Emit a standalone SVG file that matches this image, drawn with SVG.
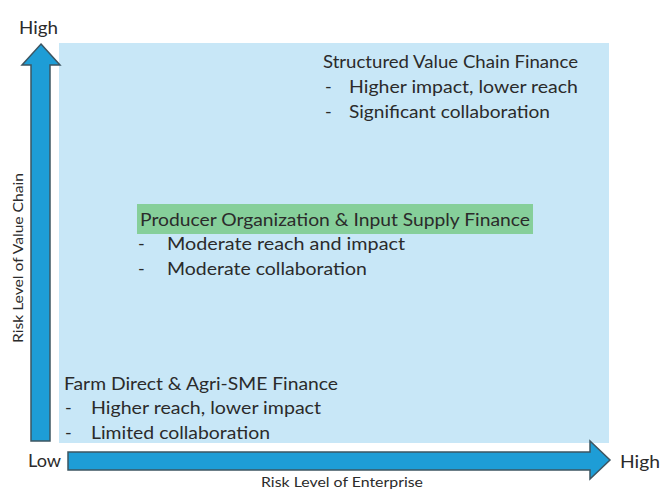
<svg xmlns="http://www.w3.org/2000/svg" width="662" height="489" viewBox="0 0 662 489">
<style>
text{font-family:Lato,"Open Sans","Liberation Sans",sans-serif;fill:#2b2b2b}
.t{font-size:18px}
.ax{font-size:17px}
.al{font-size:12.5px}
.arrow{fill:#1e9dd6;stroke:#3d5561;stroke-width:1.5;stroke-linejoin:miter}
</style>
<rect width="662" height="489" fill="#ffffff"/>
<rect id="plane" x="59" y="43" width="550" height="400" fill="#c8e7f7"/>
<g id="connectors">
<polygon class="arrow" points="41,44 60,65 50,65 50,441 31,441 31,65 22,65"/>
<polygon class="arrow" points="68,452 590,452 590,441 610,460 590,479 590,470 68,470"/>
</g>
<g id="axis-labels">
<text class="ax" x="19" y="34" textLength="39" lengthAdjust="spacingAndGlyphs">High</text>
<text class="ax" x="28" y="467" textLength="33" lengthAdjust="spacingAndGlyphs">Low</text>
<text class="ax" x="620" y="468" textLength="40" lengthAdjust="spacingAndGlyphs">High</text>
<text class="al" x="261" y="487" textLength="162" lengthAdjust="spacingAndGlyphs">Risk Level of Enterprise</text>
<text class="al" transform="translate(23,343) rotate(-90)" x="0" y="0" textLength="170" lengthAdjust="spacingAndGlyphs">Risk Level of Value Chain</text>
</g>
<g id="structured">
<text class="t" x="323" y="68" textLength="255" lengthAdjust="spacingAndGlyphs">Structured Value Chain Finance</text>
<text class="t" x="325" y="93">-</text>
<text class="t" x="349" y="93" textLength="229" lengthAdjust="spacingAndGlyphs">Higher impact, lower reach</text>
<text class="t" x="325" y="118">-</text>
<text class="t" x="349" y="118" textLength="201" lengthAdjust="spacingAndGlyphs">Significant collaboration</text>
</g>
<g id="producer">
<rect x="137" y="204" width="396" height="30" fill="#86cf9a"/>
<text class="t" x="140" y="226" textLength="390" lengthAdjust="spacingAndGlyphs">Producer Organization &amp; Input Supply Finance</text>
<text class="t" x="138" y="250">-</text>
<text class="t" x="167" y="250" textLength="238" lengthAdjust="spacingAndGlyphs">Moderate reach and impact</text>
<text class="t" x="138" y="275">-</text>
<text class="t" x="167" y="275" textLength="200" lengthAdjust="spacingAndGlyphs">Moderate collaboration</text>
</g>
<g id="farm">
<text class="t" x="64" y="390" textLength="274" lengthAdjust="spacingAndGlyphs">Farm Direct &amp; Agri-SME Finance</text>
<text class="t" x="65" y="414">-</text>
<text class="t" x="91" y="414" textLength="230" lengthAdjust="spacingAndGlyphs">Higher reach, lower impact</text>
<text class="t" x="65" y="439">-</text>
<text class="t" x="91" y="439" textLength="179" lengthAdjust="spacingAndGlyphs">Limited collaboration</text>
</g>
</svg>
